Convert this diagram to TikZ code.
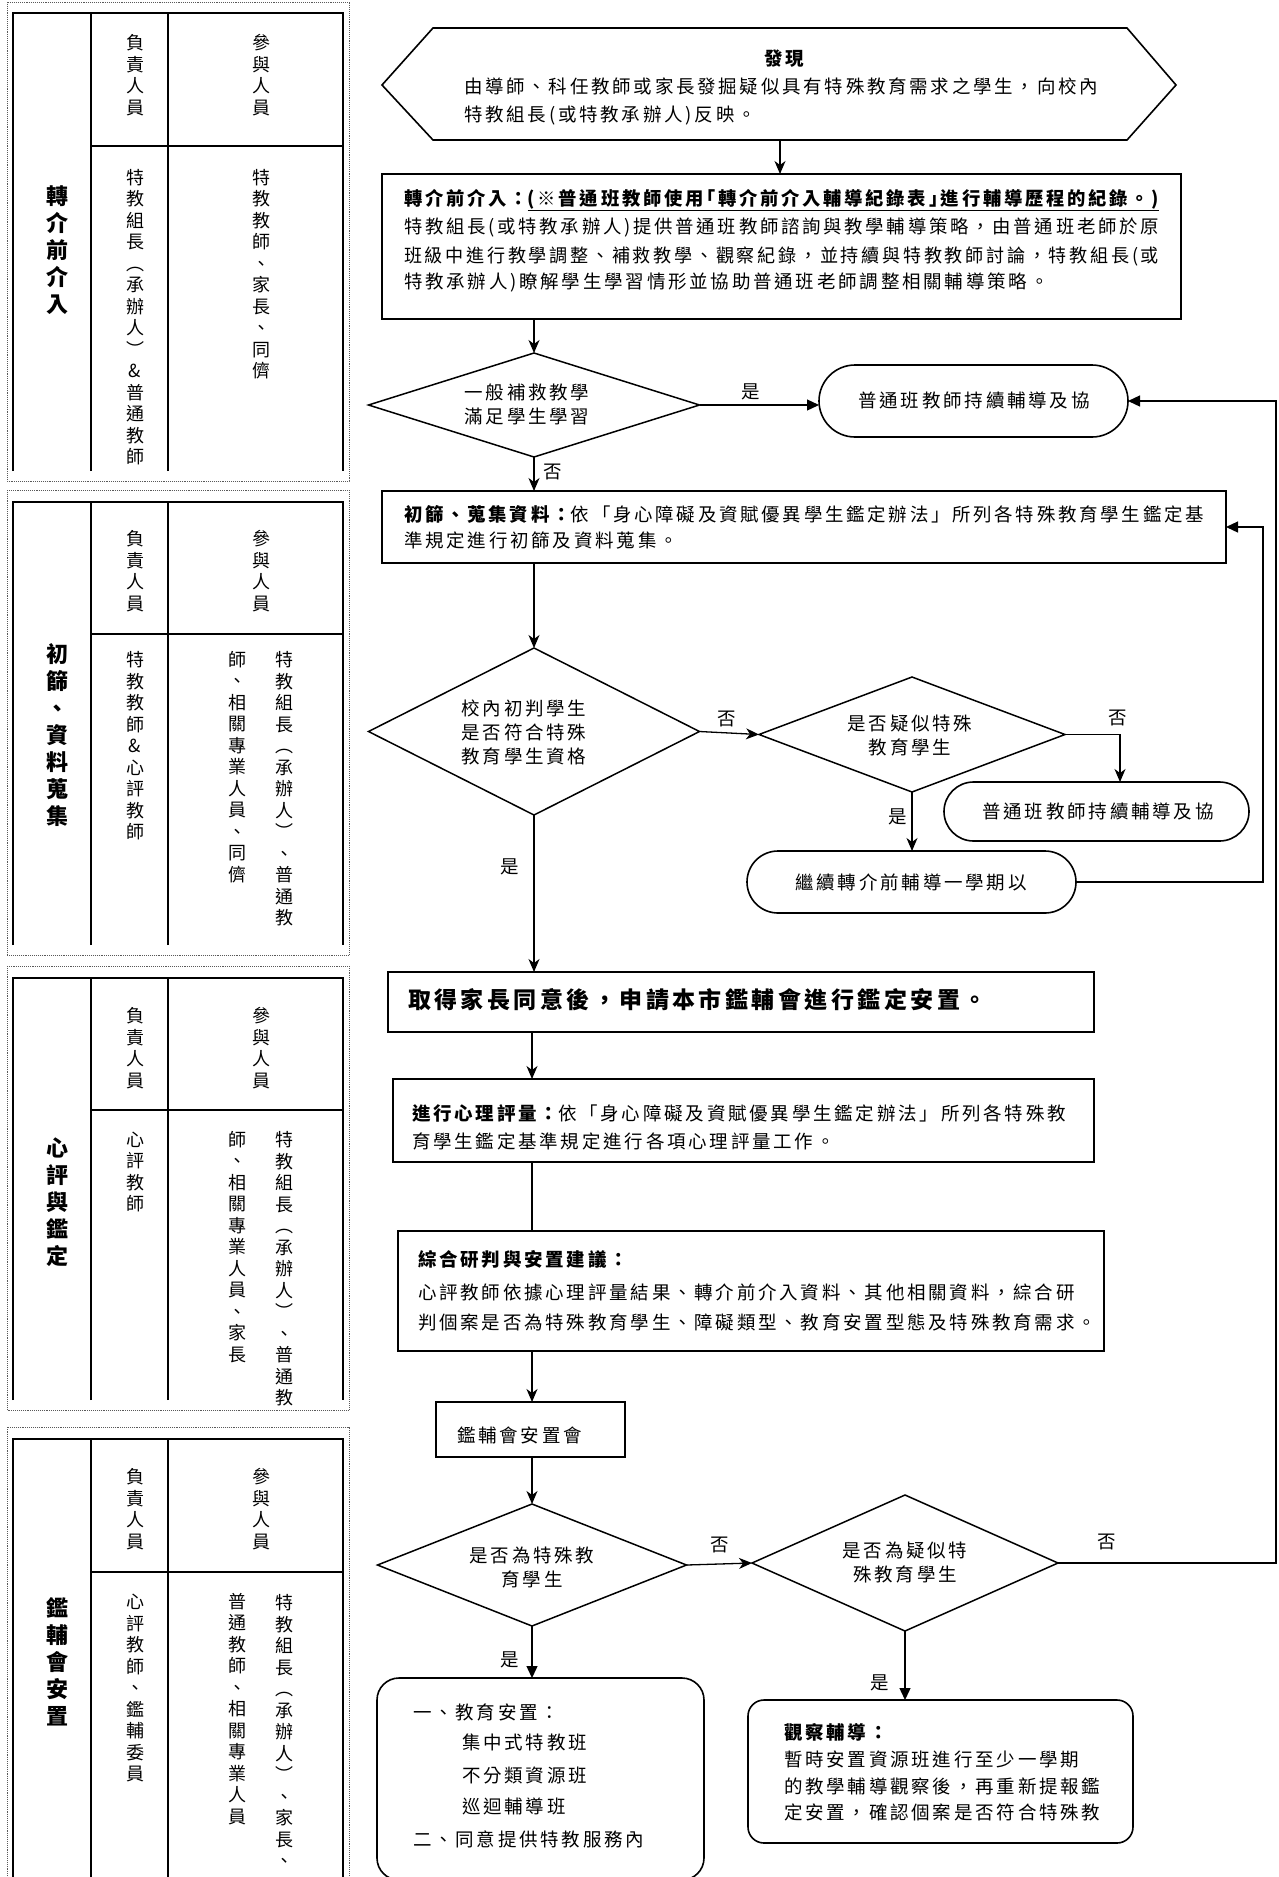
\documentclass[tikz,border=0pt]{standalone}
\usepackage{fontspec}
\usepackage{graphicx}
\newfontfamily\cjk{Noto Sans CJK TC}[LetterSpace=15]
\usetikzlibrary{arrows.meta,shapes.geometric,shapes.misc}
\newcommand\fbody{\cjk\fontsize{18.5}{24}\selectfont}
\newcommand\fvert{\cjk\fontsize{18}{21.5}\selectfont}
\newcommand\fhead{\cjk\bfseries\fontsize{22}{27}\selectfont}
\newcommand\fbig{\cjk\bfseries\fontsize{23}{28}\selectfont}
\newcommand\fitto[2]{\resizebox{#1}{\height}{#2}}
\begin{document}
\begin{tikzpicture}[x=1pt,y=-1pt,
  every node/.style={inner sep=0pt,outer sep=0pt},
  boxst/.style={draw,line width=1.6pt,rectangle},
  diast/.style={draw,line width=1.5pt,diamond},
  stadst/.style={draw,line width=1.6pt,rounded rectangle},
  rboxst/.style={draw,line width=1.6pt,rectangle,rounded corners=#1},
  txt/.style={anchor=west,font=\fbody,text height=15pt,text depth=3pt},
  ctxt/.style={align=center,font=\fbody},
  lbl/.style={font=\fbody},
  vt/.style={align=center,font=\fvert},
  vh/.style={align=center,font=\fhead},
  tline/.style={line width=2pt},
  dotf/.style={densely dotted,line width=0.9pt,black!65},
  conn/.style={line width=1.3pt},
  sa/.style={conn,-{Stealth[length=13pt,width=11pt,inset=4pt]}},
  ta/.style={conn,-{Triangle[length=12pt,width=11pt]}}]
\useasboundingbox (0,0) rectangle (1279,1877);
\fill[white] (0,0) rectangle (1279,1877);

% ---------- left table ----------
\draw[dotf] (7,2) rectangle (349,481);
\draw[dotf] (7,490) rectangle (349,955);
\draw[dotf] (7,966) rectangle (349,1410);
\draw[dotf] (7,1895) -- (7,1427) -- (349,1427) -- (349,1895);
\foreach \t/\d/\b in {13/146/471,502/634/945,978/1110/1400,1439/1572/1895}{
  \draw[tline] (13,\b) -- (13,\t) -- (343,\t) -- (343,\b);
  \draw[tline] (91,\b) -- (91,\t);
  \draw[tline] (168,\b) -- (168,\t);
  \draw[tline] (91,\d) -- (343,\d);
}
% section 1
\node[vh] (s1a) at (57,250) {轉\\介\\前\\介\\入};
\node[vt] (s1b) at (135,75) {負\\責\\人\\員};
\node[vt] (s1c) at (261,75) {參\\與\\人\\員};
\node[vt] (s1d) at (135,317) {特\\教\\組\\長\\︵\\承\\辦\\人\\︶\\\&\\普\\通\\教\\師};
\node[vt] (s1e) at (261,274) {特\\教\\教\\師\\、\\家\\長\\、\\同\\儕};
% section 2
\node[vh] (s2a) at (57,735) {初\\篩\\、\\資\\料\\蒐\\集};
\node[vt] (s2b) at (135,571) {負\\責\\人\\員};
\node[vt] (s2c) at (261,571) {參\\與\\人\\員};
\node[vt] (s2d) at (135,746) {特\\教\\教\\師\\\&\\心\\評\\教\\師};
\node[vt] (s2e) at (284,789) {特\\教\\組\\長\\︵\\承\\辦\\人\\︶\\、\\普\\通\\教};
\node[vt] (s2f) at (237,767) {師\\、\\相\\關\\專\\業\\人\\員\\、\\同\\儕};
% section 3
\node[vh] (s3a) at (57,1202) {心\\評\\與\\鑑\\定};
\node[vt] (s3b) at (135,1048) {負\\責\\人\\員};
\node[vt] (s3c) at (261,1048) {參\\與\\人\\員};
\node[vt] (s3d) at (135,1172) {心\\評\\教\\師};
\node[vt] (s3e) at (284,1269) {特\\教\\組\\長\\︵\\承\\辦\\人\\︶\\、\\普\\通\\教};
\node[vt] (s3f) at (237,1247) {師\\、\\相\\關\\專\\業\\人\\員\\、\\家\\長};
% section 4
\node[vh] (s4a) at (57,1662) {鑑\\輔\\會\\安\\置};
\node[vt] (s4b) at (135,1509) {負\\責\\人\\員};
\node[vt] (s4c) at (261,1509) {參\\與\\人\\員};
\node[vt] (s4d) at (135,1688) {心\\評\\教\\師\\、\\鑑\\輔\\委\\員};
\node[vt] (s4e) at (284,1731) {特\\教\\組\\長\\︵\\承\\辦\\人\\︶\\、\\家\\長\\、};
\node[vt] (s4f) at (237,1709) {普\\通\\教\\師\\、\\相\\關\\專\\業\\人\\員};

% ---------- flow shapes ----------
\draw[line width=1.6pt] (382,85) -- (433,28) -- (1127,28) -- (1176,85) -- (1127,140) -- (433,140) -- cycle;
\node (disc) at (780,84) [minimum width=694pt,minimum height=112pt] {};
\node[boxst,minimum width=799pt,minimum height=145pt] (b2) at (781.5,246.5) {};
\node[diast,minimum width=331pt,minimum height=104pt] (d1) at (534,405) {};
\node[stadst,minimum width=309pt,minimum height=72pt] (rb1) at (973.5,401) {};
\node[boxst,minimum width=844pt,minimum height=72pt] (b3) at (804,527) {};
\node[diast,minimum width=331pt,minimum height=167pt] (d2) at (534,731.5) {};
\node[diast,minimum width=306pt,minimum height=115pt] (d3) at (912,734.5) {};
\node[stadst,minimum width=305pt,minimum height=59pt] (rb2) at (1096.5,811.5) {};
\node[stadst,minimum width=329pt,minimum height=62pt] (rb3) at (911.5,882) {};
\node[boxst,minimum width=706pt,minimum height=60pt] (b4) at (741,1002) {};
\node[boxst,minimum width=701pt,minimum height=83pt] (b5) at (743.5,1120.5) {};
\node[boxst,minimum width=706pt,minimum height=120pt] (b6) at (751,1291) {};
\node[boxst,minimum width=189pt,minimum height=55pt] (b7) at (530.5,1429.5) {};
\node[diast,minimum width=309pt,minimum height=122pt] (d4) at (532,1565) {};
\node[diast,minimum width=306pt,minimum height=136pt] (d5) at (905,1563) {};
\node[rboxst=22pt,minimum width=327pt,minimum height=202pt] (rb4) at (540.5,1779) {};
\node[rboxst=16pt,minimum width=385pt,minimum height=143pt] (rb5) at (940.5,1771.5) {};

\coordinate (k1) at (1120,0);
\coordinate (k2) at (1263,0);
\coordinate (k3) at (1276,0);

% ---------- texts ----------
\node[font=\fbody\bfseries] (t0) at (784,59) {發現};
\node[txt] (t0a) at (464,87) {\fitto{634pt}{由導師、科任教師或家長發掘疑似具有特殊教育需求之學生，向校內}};
\node[txt] (t0b) at (464,115) {特教組長(或特教承辦人)反映。};

\node[txt] (t1a) at (404,199) {\fitto{755pt}{\bfseries 轉介前介入：\underline{(※普通班教師使用｢轉介前介入輔導紀錄表｣進行輔導歷程的紀錄。)}}};
\node[txt] (t1b) at (404,227) {\fitto{755pt}{特教組長(或特教承辦人)提供普通班教師諮詢與教學輔導策略，由普通班老師於原}};
\node[txt] (t1c) at (404,256) {\fitto{755pt}{班級中進行教學調整、補救教學、觀察紀錄，並持續與特教教師討論，特教組長(或}};
\node[txt] (t1d) at (404,282) {特教承辦人)瞭解學生學習情形並協助普通班老師調整相關輔導策略。};

\node[ctxt] (d1t) at (527,404) {一般補救教學\\滿足學生學習};
\node[font=\fbody] (rb1t) at (974,401) {普通班教師持續輔導及協};

\node[txt] (t2a) at (404,515) {\fitto{800pt}{{\bfseries 初篩、蒐集資料：}依「身心障礙及資賦優異學生鑑定辦法」所列各特殊教育學生鑑定基}};
\node[txt] (t2b) at (404,541) {準規定進行初篩及資料蒐集。};

\node[ctxt] (d2t) at (524,732) {校內初判學生\\是否符合特殊\\教育學生資格};
\node[ctxt] (d3t) at (910,736) {是否疑似特殊\\教育學生};
\node[font=\fbody] (rb2t) at (1098,812) {普通班教師持續輔導及協};
\node[font=\fbody] (rb3t) at (911,882) {繼續轉介前輔導一學期以};

\node[anchor=west,font=\fbig] (t3) at (408,1000) {取得家長同意後，申請本市鑑輔會進行鑑定安置。};

\node[txt] (t4a) at (412,1114) {{\bfseries 進行心理評量：}依「身心障礙及資賦優異學生鑑定辦法」所列各特殊教};
\node[txt] (t4b) at (412,1142) {育學生鑑定基準規定進行各項心理評量工作。};

\node[txt] (t5a) at (418,1260) {\bfseries 綜合研判與安置建議：};
\node[txt] (t5b) at (418,1293) {心評教師依據心理評量結果、轉介前介入資料、其他相關資料，綜合研};
\node[txt] (t5c) at (418,1323) {判個案是否為特殊教育學生、障礙類型、教育安置型態及特殊教育需求。};

\node[txt] (t6) at (457,1436) {鑑輔會安置會};

\node[ctxt] (d4t) at (532,1568) {是否為特殊教\\育學生};
\node[ctxt] (d5t) at (905,1563) {是否為疑似特\\殊教育學生};

\node[txt] (t7a) at (413,1713) {一、教育安置：};
\node[txt] (t7b) at (462,1743) {集中式特教班};
\node[txt] (t7c) at (462,1776) {不分類資源班};
\node[txt] (t7d) at (462,1807) {巡迴輔導班};
\node[txt] (t7e) at (413,1840) {二、同意提供特教服務內};

\node[txt] (t8a) at (784,1733) {\bfseries 觀察輔導：};
\node[txt] (t8b) at (784,1760) {暫時安置資源班進行至少一學期};
\node[txt] (t8c) at (784,1787) {的教學輔導觀察後，再重新提報鑑};
\node[txt] (t8d) at (784,1813) {定安置，確認個案是否符合特殊教};

% ---------- labels ----------
\node[lbl] (l1) at (751,392) {是};
\node[lbl] (l2) at (553,472) {否};
\node[lbl] (l3) at (727,719) {否};
\node[lbl] (l4) at (1118,718) {否};
\node[lbl] (l5) at (898,817) {是};
\node[lbl] (l6) at (510,867) {是};
\node[lbl] (l7) at (720,1545) {否};
\node[lbl] (l8) at (1107,1542) {否};
\node[lbl] (l9) at (510,1660) {是};
\node[lbl] (l10) at (880,1683) {是};

% ---------- connectors ----------
\draw[sa] (disc.south) -- (disc.south |- b2.north);
\draw[sa] (b2.south -| d1.north) -- (d1.north);
\draw[ta] (d1.east) -- (d1.east -| rb1.west);
\draw[sa] (d1.south) -- (d1.south |- b3.north);
\draw[sa] (b3.south -| d2.north) -- (d2.north);
\draw[sa] (d2.east) -- (d3.west);
\draw[sa] (d3.east) -| (k1 |- rb2.north);
\draw[sa] (d3.south) -- (d3.south |- rb3.north);
\draw[ta] (rb3.east) -| (k2 |- b3.east) -- (b3.east);
\draw[sa] (d2.south) -- (d2.south |- b4.north);
\draw[sa] (b4.south -| d4.north) -- (b5.north -| d4.north);
\draw[conn] (b5.south -| d4.north) -- (b6.north -| d4.north);
\draw[sa] (b6.south -| d4.north) -- (b7.north -| d4.north);
\draw[sa] (b7.south -| d4.north) -- (d4.north);
\draw[sa] (d4.east) -- (d5.west);
\draw[ta] (d5.east) -| (k3 |- rb1.east) -- (rb1.east);
\draw[ta] (d4.south) -- (d4.south |- rb4.north);
\draw[ta] (d5.south) -- (d5.south |- rb5.north);
\end{tikzpicture}
\end{document}
